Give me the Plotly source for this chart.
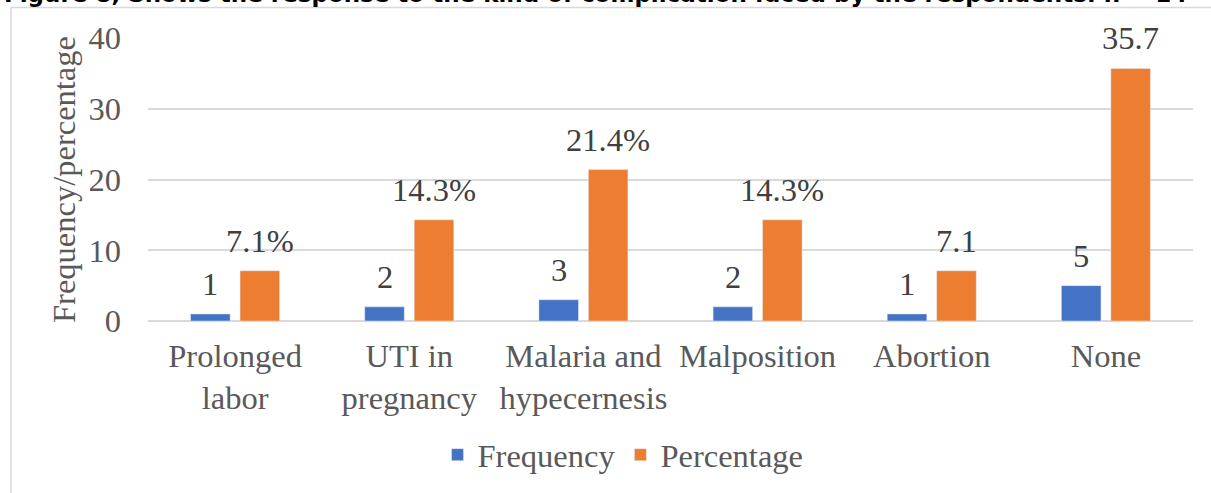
import plotly.graph_objects as go

categories = ["Prolonged<br>labor", "UTI in<br>pregnancy", "Malaria and<br>hypecernesis",
              "Malposition", "Abortion", "None"]
frequency = [1, 2, 3, 2, 1, 5]
percentage = [7.1, 14.3, 21.4, 14.3, 7.1, 35.7]
frequency_labels = ["1", "2", "3", "2", "1", "5"]
percentage_labels = ["7.1%", "14.3%", "21.4%", "14.3%", "7.1", "35.7"]
y_ticks = [0, 10, 20, 30, 40]
title_text = "Figure 8, Shows the response to the kind of complication faced by the respondents. n = 14"

BLUE = "#4472C4"
ORANGE = "#ED7D31"
GRID = "#D9D9D9"
FONT = "Liberation Serif, Times New Roman, serif"
FS = 32.5

W, H = 1211, 493
L, R, T, B = 148, 18, 38, 172
plot_w = W - L - R
plot_h = H - T - B

fig = go.Figure()
fig.add_trace(go.Bar(name="Frequency", x=categories, y=frequency, marker_color=BLUE))
fig.add_trace(go.Bar(name="Percentage", x=categories, y=percentage, marker_color=ORANGE))

off = 0.142
for i in range(len(categories)):
    for dx, val, lab in ((-off, frequency[i], frequency_labels[i]),
                         (off, percentage[i], percentage_labels[i])):
        fig.add_annotation(x=i + dx, y=val, xref="x", yref="y", text=lab,
                           showarrow=False, yanchor="middle", yshift=30,
                           font=dict(family=FONT, size=FS, color="#404040"))

fig.add_annotation(x=(2 - L) / plot_w, y=1, xref="paper", yref="paper", xanchor="left",
                   yanchor="bottom", yshift=28.5, text="<b>" + title_text + "</b>",
                   showarrow=False, font=dict(family="DejaVu Sans", size=23, color="#000000"))

fig.add_shape(type="rect", xref="paper", yref="paper",
              x0=(11 - L) / plot_w, x1=(W + 10 - L) / plot_w,
              y0=-(B + 20) / plot_h, y1=(H - B - 7.5) / plot_h,
              line=dict(color=GRID, width=1.5), fillcolor="rgba(0,0,0,0)", layer="below")

fig.update_layout(
    width=W, height=H,
    margin=dict(l=L, r=R, t=T, b=B, autoexpand=False),
    paper_bgcolor="white", plot_bgcolor="white",
    barmode="group", bargap=0.432, bargroupgap=0.2,
    font=dict(family=FONT, size=FS, color="#595959"),
    showlegend=True,
    legend=dict(orientation="h", x=(623 - L) / plot_w, xanchor="center",
                y=-(455 - (H - B)) / plot_h, yanchor="middle",
                font=dict(family=FONT, size=FS, color="#595959")),
    xaxis=dict(showgrid=False, showline=False, zeroline=False, ticks="",
               ticklabelstandoff=12, automargin=False,
               tickfont=dict(family=FONT, size=FS, color="#595959")),
    yaxis=dict(range=[0, 40], tickvals=y_ticks, showgrid=True, gridcolor=GRID, gridwidth=1.5,
               zeroline=True, zerolinecolor=GRID, zerolinewidth=1.5, showline=False,
               ticklabelstandoff=26, automargin=False,
               tickfont=dict(family=FONT, size=FS, color="#595959"),
               title=dict(text="Frequency/percentage", standoff=3,
                          font=dict(family=FONT, size=FS, color="#595959"))),
)

fig.write_html("out.html", post_script="document.body.style.margin='0';",
               config={"displayModeBar": False})
